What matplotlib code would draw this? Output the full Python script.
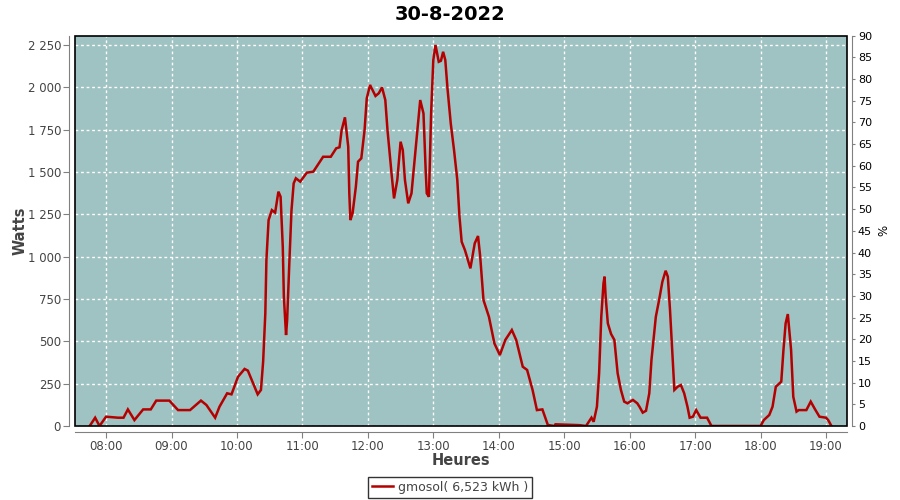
import numpy as np
import pandas as pd
import matplotlib
matplotlib.use('Agg')
import matplotlib.pyplot as plt
import matplotlib.dates as mdates
from matplotlib.ticker import FuncFormatter, MultipleLocator
from matplotlib.patches import Rectangle

# puissance relevée (heure, watts)
heures = ['07:45', '07:50', '07:54', '08:00', '08:11', '08:16', '08:20', '08:26', '08:34', '08:41',
          '08:46', '08:58', '09:06', '09:17', '09:27', '09:32', '09:40', '09:44', '09:51', '09:55',
          '10:01', '10:07', '10:10', '10:19', '10:22', '10:24', '10:26', '10:27', '10:29', '10:32',
          '10:35', '10:38', '10:40', '10:42', '10:43', '10:45', '10:46', '10:48', '10:50', '10:52',
          '10:54', '10:58', '11:04', '11:10', '11:19', '11:26', '11:31', '11:34', '11:36', '11:39',
          '11:42', '11:43', '11:44', '11:46', '11:49', '11:51', '11:54', '11:57', '11:59', '12:02',
          '12:07', '12:10', '12:13', '12:16', '12:18', '12:22', '12:24', '12:27', '12:30', '12:32',
          '12:34', '12:37', '12:40', '12:44', '12:48', '12:51', '12:53', '12:54', '12:56', '12:58',
          '13:00', '13:02', '13:05', '13:07', '13:09', '13:11', '13:13', '13:16', '13:19', '13:22',
          '13:24', '13:26', '13:29', '13:34', '13:38', '13:41', '13:43', '13:46', '13:51', '13:56',
          '14:01', '14:06', '14:12', '14:16', '14:22', '14:26', '14:31', '14:35', '14:40', '14:45',
          '14:51', '14:52', '15:14', '15:20', '15:25', '15:27', '15:30', '15:32', '15:34', '15:36',
          '15:37', '15:38', '15:40', '15:43', '15:46', '15:49', '15:52', '15:55', '15:58', '16:03',
          '16:07', '16:09', '16:12', '16:15', '16:18', '16:20', '16:24', '16:27', '16:30', '16:33',
          '16:35', '16:37', '16:39', '16:41', '16:44', '16:47', '16:50', '16:53', '16:55', '16:58',
          '17:01', '17:05', '17:11', '17:15', '17:40', '18:00', '18:03', '18:08', '18:11', '18:14',
          '18:19', '18:21', '18:23', '18:25', '18:26', '18:28', '18:30', '18:33', '18:35', '18:42',
          '18:46', '18:50', '18:54', '19:00', '19:02', '19:05']
watts = [0, 49, 0, 55, 49, 49, 98, 35, 98, 98,
         150, 150, 94, 94, 150, 124, 49, 114, 193, 187,
         291, 337, 327, 187, 213, 380, 665, 980, 1216, 1275,
         1260, 1384, 1354, 1059, 764, 537, 626, 961, 1275, 1433,
         1463, 1443, 1496, 1502, 1590, 1590, 1640, 1646, 1748, 1823,
         1650, 1374, 1216, 1256, 1413, 1561, 1581, 1748, 1935, 2014,
         1949, 1965, 2000, 1925, 1748, 1472, 1344, 1453, 1679, 1630,
         1453, 1315, 1374, 1650, 1925, 1846, 1512, 1374, 1354, 1846,
         2161, 2250, 2151, 2157, 2210, 2161, 1994, 1787, 1630, 1453,
         1236, 1088, 1039, 931, 1079, 1122, 1000, 744, 645, 488,
         419, 508, 567, 508, 350, 331, 213, 94, 98, 6,
         0, 10, 5, 0, 49, 25, 114, 311, 645, 842,
         882, 764, 606, 543, 508, 311, 213, 144, 134, 154,
         134, 114, 79, 90, 193, 390, 645, 744, 852, 917,
         882, 685, 449, 213, 232, 242, 193, 114, 49, 55,
         94, 49, 49, 0, 0, 0, 35, 65, 114, 232,
         262, 449, 606, 661, 590, 449, 173, 85, 94, 94,
         144, 98, 55, 49, 35, 0]

titre = '30-8-2022'
legende = 'gmosol( 6,523 kWh )'

t = pd.to_datetime(['2022-08-30 ' + h for h in heures])

fig = plt.figure(figsize=(9, 5), dpi=100)
ax = fig.add_axes([0.0833, 0.148, 0.8575, 0.7806])
ax.set_facecolor('#9EC3C2')

ax.plot(t, watts, color='#B40000', lw=1.8, solid_joinstyle='miter', zorder=3)

ax.set_xlim(pd.Timestamp('2022-08-30 07:31:30'), pd.Timestamp('2022-08-30 19:19:00'))
ax.set_ylim(0, 2305)
ax.yaxis.set_major_locator(MultipleLocator(250))
ax.yaxis.set_major_formatter(FuncFormatter(lambda v, p: '{:,}'.format(int(v)).replace(',', ' ')))
ax.xaxis.set_major_locator(mdates.HourLocator())
ax.xaxis.set_major_formatter(mdates.DateFormatter('%H:%M'))

ax.grid(True, color='white', ls=(0, (2, 2)), lw=1)
ax.set_axisbelow(True)

# cadre noir de la zone de tracé, axes gris décalés
ax.add_patch(Rectangle((0, 0), 1, 1, transform=ax.transAxes, fill=False,
                       edgecolor='black', lw=1.2, clip_on=False, zorder=5))
for s in ['top', 'right']:
    ax.spines[s].set_visible(False)
for s in ['left', 'bottom']:
    ax.spines[s].set_position(('outward', 4))
    ax.spines[s].set_color('#808080')
ax.tick_params(colors='#808080', labelcolor='#444444', labelsize=8.5, length=4, direction='out', pad=2)

ax.set_ylabel('Watts', fontsize=10.5, fontweight='bold', color='#444444')
ax.yaxis.set_label_coords(-0.062, 0.5)
ax.set_xlabel('Heures', fontsize=10.5, fontweight='bold', color='#444444')
ax.xaxis.set_label_coords(0.5, -0.068)

ax2 = ax.twinx()
ax2.set_ylim(0, 90)
ax2.yaxis.set_major_locator(MultipleLocator(5))
for s in ['top', 'left', 'bottom']:
    ax2.spines[s].set_visible(False)
ax2.spines['right'].set_position(('outward', 4))
ax2.spines['right'].set_color('#808080')
ax2.tick_params(colors='#808080', labelcolor='black', labelsize=8, length=2.5, direction='out', pad=1.5)
ax2.set_ylabel('%', fontsize=8.5, color='black', labelpad=4)

fig.suptitle(titre, fontsize=14, fontweight='bold', y=0.99)

leg = fig.legend([ax.lines[0]], [legende], loc='lower center', bbox_to_anchor=(0.5, 0.0),
                 fontsize=9, frameon=True, fancybox=False, handlelength=1.7,
                 handletextpad=0.4, borderpad=0.3, borderaxespad=0.2)
leg.get_frame().set_edgecolor('black')
leg.get_frame().set_linewidth(1)
for txt in leg.get_texts():
    txt.set_color('#444444')

fig.savefig('out.png', dpi=100)
